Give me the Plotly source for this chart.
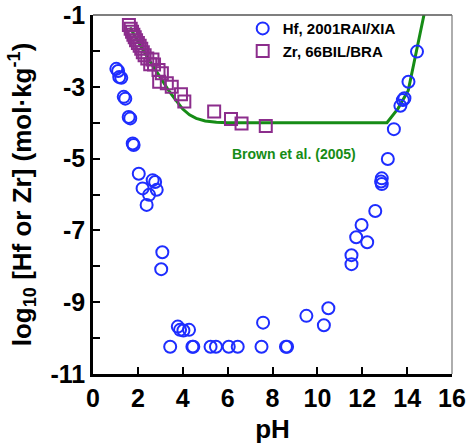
import plotly.graph_objects as go

# Hf solubility data (2001RAI/XIA)
hf_ph = [1.04, 1.12, 1.17, 1.26, 1.37, 1.44, 1.59, 1.66, 1.77, 1.81,
         2.04, 2.21, 2.39, 2.50, 2.66, 2.77, 2.84, 3.04, 3.09,
         3.44, 3.78, 3.88, 4.03, 4.28, 4.43, 4.47, 5.24, 5.48, 6.05, 6.45,
         7.51, 7.58, 8.60, 8.65, 9.51, 10.29, 10.49,
         11.52, 11.52, 11.73, 11.97, 12.22, 12.58, 12.84, 12.87, 12.87,
         13.14, 13.41, 13.70, 13.81, 13.88, 14.06, 14.44]
hf_log = [-2.50, -2.56, -2.73, -2.75, -3.28, -3.33, -3.84, -3.88, -4.58, -4.62,
          -5.42, -5.83, -6.29, -6.01, -5.60, -5.65, -5.87, -8.08, -7.61,
          -10.24, -9.68, -9.77, -9.79, -9.77, -10.24, -10.24, -10.24, -10.24, -10.24, -10.24,
          -10.24, -9.57, -10.24, -10.24, -9.38, -9.64, -9.17,
          -7.69, -7.94, -7.19, -6.85, -7.33, -6.46, -5.64, -5.71, -5.55,
          -5.01, -4.18, -3.53, -3.37, -3.32, -2.86, -2.02]

# Zr solubility data (66BIL/BRA)
zr_ph = [1.60, 1.68, 1.74, 1.80, 1.86, 1.92, 2.00, 2.08, 2.15, 2.22,
         2.30, 2.42, 2.55, 2.65, 2.72, 2.92, 3.07, 2.95, 3.29, 3.51,
         3.92, 4.07, 5.40, 6.15, 6.62, 7.70]
zr_log = [-1.28, -1.38, -1.47, -1.55, -1.62, -1.70, -1.78, -1.86, -1.94, -2.04,
          -2.12, -2.21, -2.37, -2.24, -2.38, -2.53, -2.62, -2.86, -2.90, -3.00,
          -3.21, -3.41, -3.69, -3.90, -4.02, -4.09]

# Model curve, Brown et al. (2005)
model_ph = [1.65, 1.9, 2.2, 2.5, 2.8, 3.1, 3.4, 3.7, 4.0, 4.3, 4.6, 5.0, 5.5, 6.0,
            13.1, 13.6, 14.05, 14.3, 14.55, 14.75]
model_log = [-1.35, -1.63, -1.95, -2.25, -2.55, -2.85, -3.13, -3.38, -3.62, -3.78,
             -3.88, -3.95, -3.99, -4.0, -4.0, -3.6, -3.1, -2.35, -1.65, -1.0]

x_ticks = [0, 2, 4, 6, 8, 10, 12, 14, 16]
y_ticks = [-11, -9, -7, -5, -3, -1]

FONT = "Liberation Sans, Arial, sans-serif"

fig = go.Figure()

fig.add_trace(go.Scatter(
    x=model_ph, y=model_log, mode="lines",
    line=dict(color="rgb(22,140,22)", width=3),
    showlegend=False, hoverinfo="skip",
))

fig.add_trace(go.Scatter(
    x=hf_ph, y=hf_log, mode="markers", name="Hf, 2001RAI/XIA",
    marker=dict(symbol="circle-open", size=12, color="rgb(30,45,255)",
                line=dict(width=2)),
))

fig.add_trace(go.Scatter(
    x=zr_ph, y=zr_log, mode="markers", name="Zr, 66BIL/BRA",
    marker=dict(symbol="square-open", size=12, color="rgb(140,45,140)",
                line=dict(width=2)),
))

fig.add_annotation(
    x=8.95, y=-4.88, text="<b>Brown et al. (2005)</b>", showarrow=False,
    font=dict(family=FONT, size=14, color="rgb(22,140,22)"),
)

# thin frame on the top and right sides
fig.add_shape(type="line", xref="paper", yref="paper", x0=0, x1=1, y0=1, y1=1,
              line=dict(color="#555555", width=1.5))
fig.add_shape(type="line", xref="paper", yref="paper", x0=1, x1=1, y0=0, y1=1,
              line=dict(color="#777777", width=1.2))

fig.update_layout(
    width=471, height=444,
    margin=dict(l=93, r=19, t=15, b=70),
    paper_bgcolor="white", plot_bgcolor="white",
    font=dict(family=FONT, color="black"),
    legend=dict(
        x=0.417, y=1.008, xanchor="left", yanchor="top",
        bgcolor="rgba(0,0,0,0)",
        font=dict(family=FONT, size=15, color="black", weight="bold"),
        itemwidth=30, tracegroupgap=0,
    ),
    xaxis=dict(
        range=[0, 16], tickvals=x_ticks, ticktext=[str(v) for v in x_ticks],
        ticks="inside", ticklen=7, tickwidth=2, tickcolor="black",
        automargin=False,
        showline=True, linecolor="black", linewidth=2.5,
        showgrid=False, zeroline=False,
        tickfont=dict(family=FONT, size=25, weight="bold"),
        title=dict(text="<b>pH</b>", font=dict(family=FONT, size=26), standoff=14),
    ),
    yaxis=dict(
        range=[-11, -1], tickvals=y_ticks, ticktext=[str(v) for v in y_ticks],
        ticks="inside", ticklen=7, tickwidth=2, tickcolor="black",
        minor=dict(dtick=1, tick0=-1, ticks="inside", ticklen=7, tickwidth=2,
                   tickcolor="black", showgrid=False),
        automargin=False,
        showline=True, linecolor="black", linewidth=2.5,
        showgrid=False, zeroline=False,
        tickfont=dict(family=FONT, size=25, weight="bold"),
        title=dict(text="<b>log<sub>10</sub> [Hf or Zr] (mol·kg<sup>-1</sup>)</b>",
                   font=dict(family=FONT, size=26), standoff=12),
    ),
)

fig.write_html("out.html")
